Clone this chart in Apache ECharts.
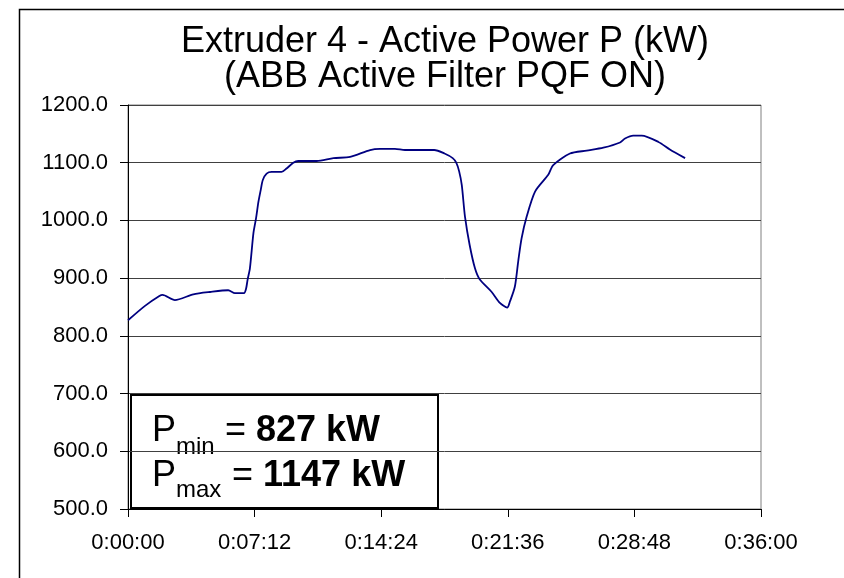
<!DOCTYPE html>
<html>
<head>
<meta charset="utf-8">
<script src="https://cdn.jsdelivr.net/npm/echarts@6/dist/echarts.min.js"></script>
<style>
  html, body { margin: 0; padding: 0; background: #fff; }
  #chart { width: 844px; height: 578px; }
</style>
</head>
<body>
<div id="chart"></div>
<script>
// time in seconds from start, active power in kW
const timeSec = [
  0, 58, 107, 118, 160, 223, 280, 342, 365, 396, 403, 408, 416, 428, 437, 445, 453, 460, 473, 490,
  524, 541, 564, 581, 644, 701, 758, 826, 860, 911, 945, 1000, 1045, 1080, 1108, 1120, 1130, 1139,
  1150, 1166, 1184, 1200, 1241, 1269, 1294, 1303, 1320, 1332, 1343, 1360, 1389, 1434, 1451, 1508,
  1565, 1622, 1679, 1696, 1724, 1753, 1810, 1849, 1901
];
const powerKW = [
  827, 852, 869, 871, 862, 872, 876, 879, 874, 874, 882, 897, 917, 978, 1004, 1032, 1053, 1070, 1081, 1084,
  1084, 1090, 1100, 1103, 1103, 1108, 1110, 1122, 1124, 1124, 1122, 1122, 1122, 1116, 1108, 1100, 1085, 1061,
  1006, 957, 917, 898, 876, 857, 849, 859, 885, 931, 969, 1006, 1050, 1079, 1096, 1116,
  1121, 1126, 1135, 1142, 1147, 1147, 1136, 1123, 1108
];
const titleLines = ['Extruder 4 - Active Power P (kW)', '(ABB Active Filter PQF ON)'];
const pMinText = '827 kW';
const pMaxText = '1147 kW';

function fmtTime(s) {
  const h = Math.floor(s / 3600);
  const m = Math.floor((s % 3600) / 60);
  const sec = Math.round(s % 60);
  return h + ':' + String(m).padStart(2, '0') + ':' + String(sec).padStart(2, '0');
}

const chart = echarts.init(document.getElementById('chart'), null, { renderer: 'canvas' });
const font = 'Liberation Sans, Arial, sans-serif';

const option = {
  backgroundColor: '#fff',
  animation: false,
  title: {
    text: titleLines.join('\n'),
    left: 440,
    textAlign: 'center',
    top: 20,
    textStyle: { fontFamily: font, fontSize: 36, fontWeight: 'normal', color: '#000', lineHeight: 35 }
  },
  grid: {
    left: 128, right: 83, top: 105, bottom: 69,
    show: true, borderColor: '#808080', borderWidth: 1, backgroundColor: '#fff'
  },
  xAxis: {
    type: 'value',
    min: 0, max: 2160, interval: 432,
    axisLine: { lineStyle: { color: '#000', width: 1 } },
    axisTick: { show: true, inside: false, length: 8, lineStyle: { color: '#000' } },
    axisLabel: { fontFamily: font, fontSize: 22, color: '#000', margin: 23, formatter: v => fmtTime(v) },
    splitLine: { show: false }
  },
  yAxis: {
    type: 'value',
    min: 500, max: 1200, interval: 100,
    axisLine: { show: true, lineStyle: { color: '#000', width: 1 } },
    axisTick: { show: true, inside: false, length: 8, lineStyle: { color: '#000' } },
    axisLabel: { fontFamily: font, fontSize: 22, color: '#000', margin: 20, formatter: v => v.toFixed(1) },
    splitLine: { show: true, lineStyle: { color: '#404040', width: 1 } }
  },
  series: [{
    type: 'line',
    data: timeSec.map((t, i) => [t, powerKW[i]]),
    showSymbol: false,
    smooth: 0.25,
    lineStyle: { color: '#000080', width: 1.8 },
    z: 3
  }],
  graphic: [
    {
      type: 'rect', left: 17, top: 7, z: -10, silent: true,
      shape: { width: 900, height: 700 },
      style: { fill: 'none', stroke: '#000', lineWidth: 1.5 }
    },
    {
      type: 'group', z: 100,
      children: [
        { type: 'rect', shape: { x: 131, y: 395, width: 307, height: 113 },
          style: { fill: '#fff', stroke: '#000', lineWidth: 2 } },
        { type: 'text', x: 152, y: 449, style: { text: 'P', font: '36px ' + font, fill: '#000', verticalAlign: 'bottom' } },
        { type: 'text', x: 176, y: 459, style: { text: 'min', font: '24px ' + font, fill: '#000', verticalAlign: 'bottom' } },
        { type: 'text', x: 225, y: 449, style: {
            text: '{r|= }{b|' + pMinText + '}', verticalAlign: 'bottom',
            rich: { r: { font: '36px ' + font, fill: '#000' }, b: { font: 'bold 36px ' + font, fill: '#000' } } } },
        { type: 'text', x: 152, y: 494, style: { text: 'P', font: '36px ' + font, fill: '#000', verticalAlign: 'bottom' } },
        { type: 'text', x: 176, y: 502, style: { text: 'max', font: '24px ' + font, fill: '#000', verticalAlign: 'bottom' } },
        { type: 'text', x: 232, y: 494, style: {
            text: '{r|= }{b|' + pMaxText + '}', verticalAlign: 'bottom',
            rich: { r: { font: '36px ' + font, fill: '#000' }, b: { font: 'bold 36px ' + font, fill: '#000' } } } }
      ]
    }
  ]
};
chart.setOption(option);
</script>
</body>
</html>
